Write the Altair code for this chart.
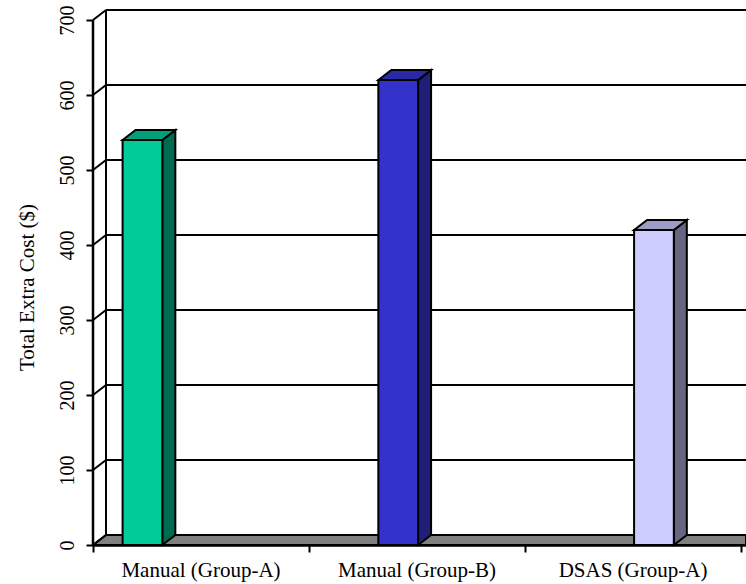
import altair as alt
import pandas as pd

# ---- data ----
categories = ["Manual (Group-A)", "Manual (Group-B)", "DSAS (Group-A)"]
values = [540, 620, 420]
front_colors = ["#00CC99", "#3333CC", "#CCCCFF"]
top_colors = ["#00A07A", "#2A2AA6", "#9C9CC6"]
side_colors = ["#006B50", "#1F1F78", "#666680"]
y_ticks = [0, 100, 200, 300, 400, 500, 600, 700]

# ---- layout constants (pixels -> data units) ----
W, H = 653, 535
PX_X = 216.0          # pixels per category slot
PX_Y = 0.75           # pixels per unit of value
XMAX = W / PX_X
YMAX = H / PX_Y
DX = 13 / PX_X        # 3-D depth offset, horizontal
DY = 10 / PX_Y        # 3-D depth offset, vertical
BAR_START = 0.137
BAR_W = 0.184
FONT = "Liberation Serif"

xs = alt.Scale(domain=[0, XMAX], nice=False, zero=False)
ys = alt.Scale(domain=[0, YMAX], nice=False, zero=False)
X_AX = alt.Axis(values=[0, 1, 2, 3], labels=False, title=None, grid=False,
                tickSize=7, tickWidth=2, tickColor="black", domain=True,
                domainColor="black", domainWidth=2.5, zindex=1)
Y_AX = alt.Axis(values=y_ticks, title="Total Extra Cost ($)", grid=False,
                domain=False, tickSize=7, tickWidth=2, tickColor="black",
                labelAngle=270, labelAlign="center", labelBaseline="bottom",
                labelPadding=9, labelFont=FONT, labelFontSize=20, labelColor="black",
                titleFont=FONT, titleFontSize=21, titleFontWeight="normal",
                titleColor="black", titleAngle=270, titleAlign="center",
                titleBaseline="alphabetic", titleX=-60, titleY=277, zindex=1)


def X(f):
    return alt.X(f, type="quantitative", scale=xs, axis=X_AX)


def Y(f):
    return alt.Y(f, type="quantitative", scale=ys, axis=Y_AX, stack=None)


# back wall gridlines (incl. top edge)
grid_df = pd.DataFrame({"v": y_ticks})
grid_df["yb"] = grid_df["v"] + DY
grid_df["x0"] = DX
grid_df["x1"] = XMAX
grid_df["xf"] = 0.0
grid = alt.Chart(grid_df).mark_rule(color="black", strokeWidth=2).encode(
    x=X("x0"), x2="x1", y=Y("yb"))
connectors = alt.Chart(grid_df).mark_rule(color="black", strokeWidth=2).encode(
    x=X("xf"), x2="x0", y=Y("v"), y2="yb")

edge_df = pd.DataFrame({"x": [DX], "y": [DY], "y2": [YMAX]})
back_edge = alt.Chart(edge_df).mark_rule(color="black", strokeWidth=2).encode(
    x=X("x"), y=Y("y"), y2="y2")

front_df = pd.DataFrame({"x": [0.0], "y": [0.0], "y2": [float(y_ticks[-1])]})
front_axis = alt.Chart(front_df).mark_rule(color="black", strokeWidth=2.5).encode(
    x=X("x"), y=Y("y"), y2="y2")

floor_df = pd.DataFrame({"x": [0.0, DX, XMAX], "y": [0.0, DY, DY], "y2": [0.0, 0.0, 0.0]})
floor = alt.Chart(floor_df).mark_area(fill="#808080", stroke="black", strokeWidth=2,
                                      strokeJoin="miter", orient="vertical").encode(
    x=X("x"), y=Y("y"), y2="y2")

# bars
side_rows, top_rows, front_rows = [], [], []
for i, (c, v) in enumerate(zip(categories, values)):
    x0 = i + BAR_START + i * BAR_W
    x1 = x0 + BAR_W
    front_rows.append({"id": i, "x0": x0, "x1": x1, "y": 0.0, "y2": v, "col": front_colors[i]})
    side_rows += [
        {"id": i, "x": x1, "y": v, "y2": 0.0},
        {"id": i, "x": x1 + DX, "y": v + DY, "y2": DY},
    ]
    top_rows += [
        {"id": i, "x": x0, "y": v, "y2": v},
        {"id": i, "x": x0 + DX, "y": v + DY, "y2": v},
        {"id": i, "x": x1, "y": v + DY, "y2": v},
        {"id": i, "x": x1 + DX, "y": v + DY, "y2": v + DY},
    ]

faces = []
side_df = pd.DataFrame(side_rows)
top_df = pd.DataFrame(top_rows)
for i in range(len(categories)):
    faces.append(alt.Chart(side_df[side_df["id"] == i]).mark_area(
        fill=side_colors[i], stroke="black", strokeWidth=2, strokeJoin="miter",
        orient="vertical").encode(x=X("x"), y=Y("y"), y2="y2"))
    faces.append(alt.Chart(top_df[top_df["id"] == i]).mark_area(
        fill=top_colors[i], stroke="black", strokeWidth=2, strokeJoin="miter",
        orient="vertical").encode(x=X("x"), y=Y("y"), y2="y2"))

front = alt.Chart(pd.DataFrame(front_rows)).mark_rect(
    stroke="black", strokeWidth=2).encode(
    x=X("x0"), x2="x1", y=Y("y"), y2="y2",
    fill=alt.Fill("col:N", scale=None))

lab_df = pd.DataFrame({"label": categories, "x": [i + 0.5 for i in range(len(categories))],
                       "y": [0.0] * len(categories)})
labels = alt.Chart(lab_df).mark_text(font=FONT, fontSize=21, color="black",
                                     baseline="alphabetic", align="center", dy=32).encode(
    x=X("x"), y=Y("y"), text="label:N")

chart = alt.layer(grid, back_edge, floor, connectors, front_axis, *faces, front, labels).properties(
    width=W, height=H, padding={"left": 93, "top": 10, "right": 0, "bottom": 39},
    autosize=alt.AutoSizeParams(type="none"), background="white",
).configure_view(stroke=None)

chart.save("out.html", embed_options={"renderer": "svg", "actions": False})
